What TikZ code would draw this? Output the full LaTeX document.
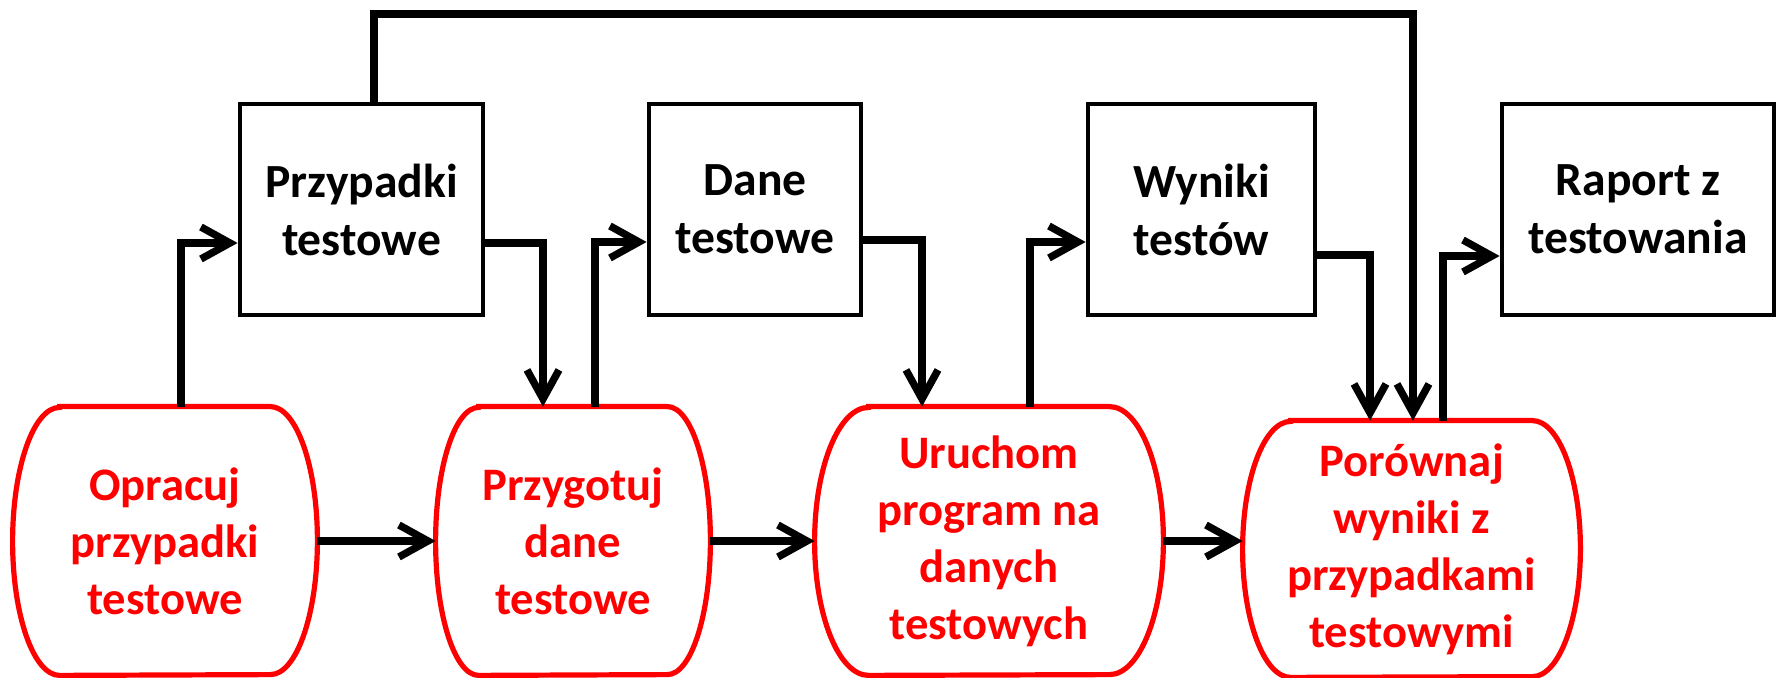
\documentclass[tikz,border=0pt]{standalone}
\usepackage{fontspec}
\setmainfont{Carlito}
\usetikzlibrary{arrows.meta,calc}
\newcommand\drawbarrel[3]{\draw[red,line width=2.6pt] ($(#1.north west)+(#2pt,0pt)$) -- ($(#1.north east)+(-#2pt,0pt)$) arc[start angle=90,end angle=-90,x radius=#2pt,y radius=#3pt] -- ($(#1.south west)+(#2pt,0pt)$) arc[start angle=270,end angle=90,x radius=#2pt,y radius=#3pt] -- cycle;}
\begin{document}
\begin{tikzpicture}[x=0.5pt,y=-0.5pt,
  box/.style={draw=black,line width=2.4pt,rectangle,inner sep=0pt,minimum height=105.5pt,align=center,font=\bfseries\fontsize{23.8}{29}\selectfont},
  proc/.style={inner sep=0pt,align=center,text=red,font=\bfseries\fontsize{23.3}{28.5}\selectfont},
  arr/.style={line width=3.7pt,line join=miter,-{Straight Barb[length=14.5pt,width=16pt]}}]
\useasboundingbox (0,0) rectangle (1777,678);
% data boxes
\node[box,minimum width=121.5pt] (pt) at (361.5,209.5) {Przypadki\\testowe};
\node[box,minimum width=106pt] (dt) at (755,209.5) {Dane\\testowe};
\node[box,minimum width=113.5pt] (wt) at (1201.5,209.5) {Wyniki\\testów};
\node[box,minimum width=136pt] (rt) at (1638,209.5) {Raport z\\testowania};
% process shapes
\node[proc,minimum width=152pt,minimum height=134pt] (op) at (165,541) {Opracuj\\przypadki\\testowe};
\drawbarrel{op}{23.5}{67}
\node[proc,minimum width=137pt,minimum height=134pt] (pd) at (573,541) {Przygotuj\\dane\\testowe};
\drawbarrel{pd}{21.5}{67}
\node[proc,minimum width=174pt,minimum height=134pt] (ur) at (989,541) {Uruchom\\program na\\danych\\testowych};
\drawbarrel{ur}{27}{67}
\node[proc,minimum width=168.5pt,minimum height=128pt] (po) at (1411.5,549) {Porównaj\\wyniki z\\przypadkami\\testowymi};
\drawbarrel{po}{24}{64}
% connectors
\draw[arr] (op.east) -- (pd.west);
\draw[arr] (pd.east) -- (ur.west);
\draw[arr] (ur.east) -- (ur.east -| po.west);
\draw[arr] ($(op.north)+(16,0)$) |- ($(pt.west)+(0,33.5)$);
\draw[arr] ($(pt.east)+(0,33.5)$) -| ($(pd.north)+(-30,0)$);
\draw[arr] ($(pd.north)+(22,0)$) |- ($(dt.west)+(0,32.5)$);
\draw[arr] ($(dt.east)+(0,30.5)$) -| ($(ur.north)+(-67,0)$);
\draw[arr] ($(ur.north)+(41,0)$) |- ($(wt.west)+(0,32.5)$);
\draw[arr] ($(wt.east)+(0,45.5)$) -| ($(po.north)+(-41.5,0)$);
\coordinate (top) at (1413,14);
\draw[arr] ($(pt.north)+(12.5,0)$) |- (top) -- (top |- po.north);
\draw[arr] ($(po.north)+(31.5,0)$) |- ($(rt.west)+(0,46.5)$);
\end{tikzpicture}
\end{document}
